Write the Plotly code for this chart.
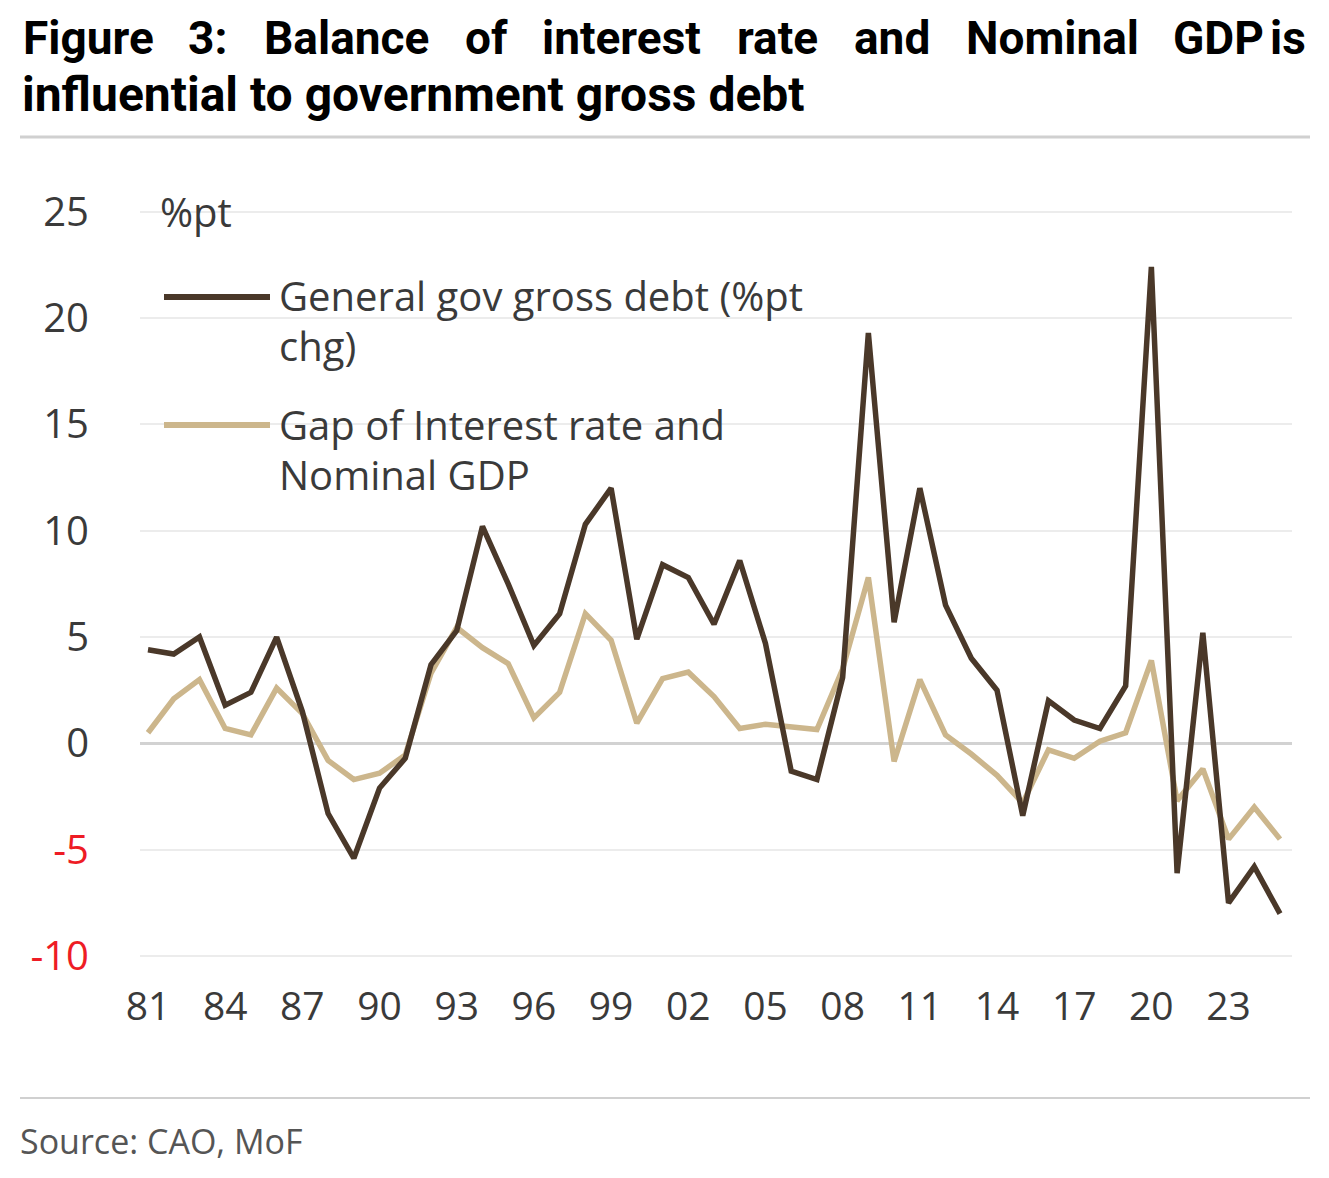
import plotly.graph_objects as go

years = list(range(1981, 2026))
gov_debt_chg = [4.4, 4.2, 5.0, 1.8, 2.4, 5.0, 1.5, -3.3, -5.4, -2.1,
                -0.7, 3.7, 5.3, 10.2, 7.5, 4.6, 6.1, 10.3, 12.0, 4.9,
                8.4, 7.8, 5.6, 8.6, 4.7, -1.3, -1.7, 3.1, 19.3, 5.7,
                12.0, 6.5, 4.0, 2.5, -3.4, 2.0, 1.1, 0.7, 2.7, 22.4,
                -6.1, 5.2, -7.5, -5.8, -8.0]
rate_gdp_gap = [0.5, 2.1, 3.0, 0.7, 0.4, 2.6, 1.4, -0.8, -1.7, -1.4,
                -0.55, 3.3, 5.45, 4.5, 3.75, 1.2, 2.4, 6.1, 4.85, 0.95,
                3.05, 3.35, 2.2, 0.7, 0.9, 0.8, 0.65, 3.5, 7.8, -0.85,
                3.0, 0.4, -0.5, -1.5, -2.8, -0.3, -0.7, 0.1, 0.5, 3.9,
                -2.7, -1.2, -4.5, -3.0, -4.5]
x_tick_vals = list(range(1981, 2024, 3))
x_tick_text = ["81", "84", "87", "90", "93", "96", "99", "02", "05", "08", "11", "14", "17", "20", "23"]
y_tick_vals = [25, 20, 15, 10, 5, 0, -5, -10]

series_names = ["General gov gross debt (%pt<br>chg)", "Gap of Interest rate and<br>Nominal GDP"]
DARK = "#4a3829"
TAN = "#ccb68c"
RED = "#ee1c25"
TXT = "#3a3a3a"

W, H = 1329, 1178
L, R, T, B = 140, 37, 201, 190
PW, PH = W - L - R, H - T - B


def px(x):
    return (x - L) / PW


def py(y):
    return 1 - (y - T) / PH


fig = go.Figure()
fig.add_trace(go.Scatter(x=years, y=rate_gdp_gap, mode="lines", name=series_names[1],
                         line=dict(color=TAN, width=5.5), showlegend=False))
fig.add_trace(go.Scatter(x=years, y=gov_debt_chg, mode="lines", name=series_names[0],
                         line=dict(color=DARK, width=5.5), showlegend=False))

y_tick_text = [(f'<span style="color:{RED}">{v}</span>' if v < 0 else str(v)) for v in y_tick_vals]

fig.update_layout(
    width=W, height=H,
    margin=dict(l=L, r=R, t=T, b=B),
    paper_bgcolor="white", plot_bgcolor="white",
    font=dict(family="Open Sans", color=TXT, size=40),
    xaxis=dict(range=[1980.689, 2025.466], tickvals=x_tick_vals, ticktext=x_tick_text,
               showgrid=False, zeroline=False, showline=False, ticks="",
               tickfont=dict(size=39, color=TXT), ticklabelstandoff=-8),
    yaxis=dict(range=[-11.5, 25.5], tickvals=y_tick_vals, ticktext=y_tick_text,
               showgrid=True, gridcolor="#ececec", gridwidth=2,
               zeroline=True, zerolinecolor="#d2d2d2", zerolinewidth=3,
               showline=False, ticks="", tickfont=dict(size=40, color=TXT),
               ticklabelstandoff=50),
)

shapes = []
# rules
shapes.append(dict(type="line", xref="paper", yref="paper", x0=px(20), x1=px(1310), y0=py(137), y1=py(137),
                   line=dict(color="#d0d0d0", width=3)))
shapes.append(dict(type="line", xref="paper", yref="paper", x0=px(20), x1=px(1310), y0=py(1098), y1=py(1098),
                   line=dict(color="#d0d0d0", width=2)))
# legend keys
shapes.append(dict(type="line", xref="paper", yref="paper", x0=px(164), x1=px(270), y0=py(297), y1=py(297),
                   line=dict(color=DARK, width=6)))
shapes.append(dict(type="line", xref="paper", yref="paper", x0=px(164), x1=px(270), y0=py(425), y1=py(425),
                   line=dict(color=TAN, width=6)))
fig.update_layout(shapes=shapes)

TFONT = dict(family="Roboto", size=46, color="#000000", weight="bold")
ann = []
# title line 1 (justified words, evenly spaced across the width)
title_words = ["Figure", "3:", "Balance", "of", "interest", "rate", "and", "Nominal", "GDP", "is"]
title_x = [21, 186, 262, 463, 540, 735, 852, 964, 1171, 1308]
title_anchor = ["left"] * 9 + ["right"]
for w_, x_, a_ in zip(title_words, title_x, title_anchor):
    ann.append(dict(text=w_, x=px(x_), y=py(38), xref="paper", yref="paper", xanchor=a_, yanchor="middle",
                    showarrow=False, font=TFONT))
ann.append(dict(text="influential to government gross debt", x=px(20), y=py(94), xref="paper", yref="paper",
                xanchor="left", yanchor="middle", showarrow=False,
                font=dict(family="Roboto", size=48, color="#000000", weight="bold")))
# unit
ann.append(dict(text="%pt", x=px(158), y=py(211), xref="paper", yref="paper", xanchor="left", yanchor="middle",
                showarrow=False, font=dict(size=40, color=TXT)))
# legend texts
legend_lines = [("General gov gross debt (%pt", 295), ("chg)", 345),
                ("Gap of Interest rate and", 424), ("Nominal GDP", 474)]
for t_, y_ in legend_lines:
    ann.append(dict(text=t_, x=px(277), y=py(y_), xref="paper", yref="paper", xanchor="left", yanchor="middle",
                    showarrow=False, font=dict(size=40, color=TXT)))
# source
ann.append(dict(text="Source: CAO, MoF", x=px(18), y=py(1141), xref="paper", yref="paper", xanchor="left",
                yanchor="middle", showarrow=False, font=dict(size=34, color="#555555")))
fig.update_layout(annotations=ann)

fig.write_html("out.html")
